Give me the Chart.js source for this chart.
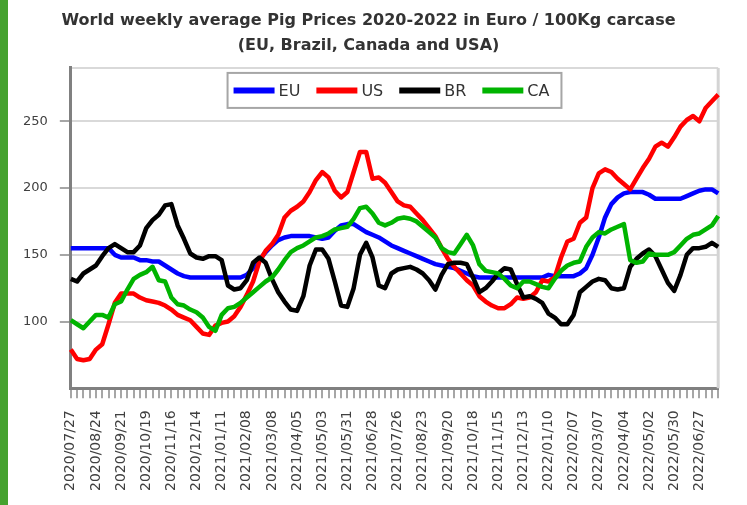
<!DOCTYPE html>
<html>
<head>
<meta charset="utf-8">
<script src="https://cdn.jsdelivr.net/npm/chart.js@4.4.0/dist/chart.umd.min.js"></script>
<style>
  body { margin: 0; background: #fff; }
  #wrap { position: relative; width: 747px; height: 505px; }
  #faixa { position: absolute; left: 0; top: 0; width: 8px; height: 505px; background: #45a22f; }
</style>
</head>
<body>
<div id="wrap">
  <canvas id="graficoPrecos" width="747" height="505"></canvas>
  <div id="faixa"></div>
</div>
<script>
// semanas (segunda-feira de cada semana)
var semanas = [
  '2020/07/27','2020/08/03','2020/08/10','2020/08/17','2020/08/24','2020/08/31','2020/09/07','2020/09/14','2020/09/21','2020/09/28',
  '2020/10/05','2020/10/12','2020/10/19','2020/10/26','2020/11/02','2020/11/09','2020/11/16','2020/11/23','2020/11/30','2020/12/07',
  '2020/12/14','2020/12/21','2020/12/28','2021/01/04','2021/01/11','2021/01/18','2021/01/25','2021/02/01','2021/02/08','2021/02/15',
  '2021/02/22','2021/03/01','2021/03/08','2021/03/15','2021/03/22','2021/03/29','2021/04/05','2021/04/12','2021/04/19','2021/04/26',
  '2021/05/03','2021/05/10','2021/05/17','2021/05/24','2021/05/31','2021/06/07','2021/06/14','2021/06/21','2021/06/28','2021/07/05',
  '2021/07/12','2021/07/19','2021/07/26','2021/08/02','2021/08/09','2021/08/16','2021/08/23','2021/08/30','2021/09/06','2021/09/13',
  '2021/09/20','2021/09/27','2021/10/04','2021/10/11','2021/10/18','2021/10/25','2021/11/01','2021/11/08','2021/11/15','2021/11/22',
  '2021/11/29','2021/12/06','2021/12/13','2021/12/20','2021/12/27','2022/01/03','2022/01/10','2022/01/17','2022/01/24','2022/01/31',
  '2022/02/07','2022/02/14','2022/02/21','2022/02/28','2022/03/07','2022/03/14','2022/03/21','2022/03/28','2022/04/04','2022/04/11',
  '2022/04/18','2022/04/25','2022/05/02','2022/05/09','2022/05/16','2022/05/23','2022/05/30','2022/06/06','2022/06/13','2022/06/20',
  '2022/06/27','2022/07/04','2022/07/11','2022/07/18'
]

var precoEU = [
  155,155,155,155,155,155,155,150,148,148,
  148,146,146,145,145,142,139,136,134,133,
  133,133,133,133,133,133,133,133,135,140,
  146,152,157,161,163,164,164,164,164,163,
  162,163,168,172,173,173,170,167,165,163,
  160,157,155,153,151,149,147,145,143,142,
  141,140,138,136,134,133,133,133,133,133,
  133,133,133,133,133,133,135,134,134,134,
  134,136,140,150,163,178,188,193,196,197,
  197,197,195,192,192,192,192,192,194,196,
  198,199,199,196
]

var precoUS = [
  79,72,71,72,79,83,98,114,121,121,
  121,118,116,115,114,112,109,105,103,101,
  96,91,90,97,99,100,104,111,120,130,
  145,153,158,165,178,183,186,190,197,206,
  212,208,198,193,197,212,227,227,207,208,
  204,197,190,187,186,181,176,170,164,155,
  147,141,136,131,127,119,115,112,110,110,
  113,118,117,118,122,131,130,133,148,160,
  162,174,178,200,211,214,212,207,203,199,
  207,215,222,231,234,231,238,246,251,254,
  250,260,265,270
]

var precoBR = [
  132,130,136,139,142,149,155,158,155,152,
  152,157,170,176,180,187,188,172,162,151,
  148,147,149,149,146,127,124,125,131,144,
  148,144,132,122,115,109,108,119,142,154,
  154,147,130,112,111,125,150,159,148,127,
  125,136,139,140,141,139,136,131,124,135,
  143,144,144,143,133,122,125,130,136,140,
  139,128,118,119,117,114,106,103,98,98,
  105,122,126,130,132,131,125,124,125,141,
  147,151,154,149,139,129,123,135,150,155,
  155,156,159,156
]

var precoCA = [
  101,98,95,100,105,105,103,113,115,124,
  132,135,137,141,131,130,118,113,112,109,
  107,103,96,93,105,110,111,114,118,122,
  126,130,133,139,146,152,155,157,160,163,
  164,166,169,170,171,177,185,186,181,174,
  172,174,177,178,177,175,171,167,163,155,
  152,151,158,165,157,143,138,137,136,132,
  127,125,130,130,128,126,125,132,138,142,
  144,145,156,163,167,166,169,171,173,146,
  144,145,151,150,150,150,152,157,162,165,
  166,169,172,179
]

var marcasY = [100, 150, 200, 250]
var tituloLinhas = ['World weekly average Pig Prices 2020-2022 in Euro / 100Kg carcase', '(EU, Brazil, Canada and USA)']

var bordaDireita = {
  id: 'bordaDireita',
  beforeDatasetsDraw(chart) {
    var ctx = chart.ctx, area = chart.chartArea
    ctx.save()
    ctx.strokeStyle = '#d4d4d4'
    ctx.lineWidth = 3
    ctx.beginPath()
    ctx.moveTo(area.right, area.top)
    ctx.lineTo(area.right, area.bottom)
    ctx.stroke()
    ctx.restore()
  }
}

var legendaInterna = {
  id: 'legendaInterna',
  afterDraw(chart) {
    var ctx = chart.ctx, area = chart.chartArea
    ctx.save()
    ctx.font = '16px "DejaVu Sans"'
    var compLinha = 41, folga = 4, espaco = 16
    var larguras = chart.data.datasets.map(d => compLinha + folga + ctx.measureText(d.label).width)
    var total = larguras.reduce((a, b) => a + b, 0) + espaco * (larguras.length - 1)
    var larguraCaixa = total + 18
    var x0 = (area.left + area.right) / 2 - larguraCaixa / 2
    var y0 = area.top + 5, altura = 35
    ctx.fillStyle = '#fff'
    ctx.fillRect(x0, y0, larguraCaixa, altura)
    ctx.strokeStyle = '#a6a6a6'
    ctx.lineWidth = 2
    ctx.strokeRect(x0, y0, larguraCaixa, altura)
    var x = x0 + 6
    var yc = y0 + altura / 2
    chart.data.datasets.forEach(function (d, i) {
      ctx.strokeStyle = d.borderColor
      ctx.lineWidth = 6
      ctx.beginPath()
      ctx.moveTo(x, yc)
      ctx.lineTo(x + compLinha, yc)
      ctx.stroke()
      ctx.fillStyle = '#333'
      ctx.textBaseline = 'middle'
      ctx.textAlign = 'left'
      ctx.fillText(d.label, x + compLinha + folga, yc + 1)
      x += larguras[i] + espaco
    })
    ctx.restore()
  }
}

function serie(nome, dados, cor, ordem) {
  return {
    label: nome,
    data: dados,
    borderColor: cor,
    backgroundColor: cor,
    borderWidth: 4.5,
    borderJoinStyle: 'round',
    pointRadius: 0,
    tension: 0,
    fill: false,
    order: ordem
  }
}

var grafico = new Chart(document.getElementById('graficoPrecos'), {
  type: 'line',
  data: {
    labels: semanas,
    datasets: [
      serie('EU', precoEU, '#0000ff', 4),
      serie('US', precoUS, '#ff0000', 3),
      serie('BR', precoBR, '#000000', 2),
      serie('CA', precoCA, '#00b400', 1)
    ]
  },
  options: {
    responsive: false,
    animation: false,
    layout: { padding: { left: 11, right: 21, top: 0, bottom: 2 } },
    plugins: {
      legend: { display: false },
      tooltip: { enabled: false },
      title: {
        display: true,
        text: tituloLinhas,
        color: '#333',
        font: { family: 'DejaVu Sans', size: 16, weight: 'bold', lineHeight: 1.56 },
        padding: { top: 8, bottom: 10 }
      }
    },
    scales: {
      x: {
        grid: { drawOnChartArea: false, drawTicks: true, tickLength: 10, color: '#a6a6a6', lineWidth: 2 },
        border: { color: '#808080', width: 3 },
        ticks: {
          autoSkip: false,
          maxRotation: 90,
          minRotation: 90,
          padding: 12,
          color: '#404040',
          font: { family: 'DejaVu Sans', size: 14 },
          callback: function (v, i) { return i % 4 === 0 ? semanas[i] : '' }
        }
      },
      y: {
        min: 50,
        max: 290,
        afterBuildTicks: function (eixo) {
          eixo.ticks = [50].concat(marcasY, [290]).map(v => ({ value: v }))
        },
        grid: {
          color: '#d9d9d9',
          lineWidth: 2,
          tickLength: 11,
          tickColor: function (c) {
            return marcasY.includes(c.tick && c.tick.value) ? '#a6a6a6' : 'rgba(0,0,0,0)'
          }
        },
        border: { color: '#808080', width: 3 },
        ticks: {
          padding: 12,
          color: '#404040',
          font: { family: 'DejaVu Sans', size: 13 },
          callback: function (v) { return marcasY.includes(v) ? v : '' }
        }
      }
    }
  },
  plugins: [bordaDireita, legendaInterna]
})
</script>
</body>
</html>
